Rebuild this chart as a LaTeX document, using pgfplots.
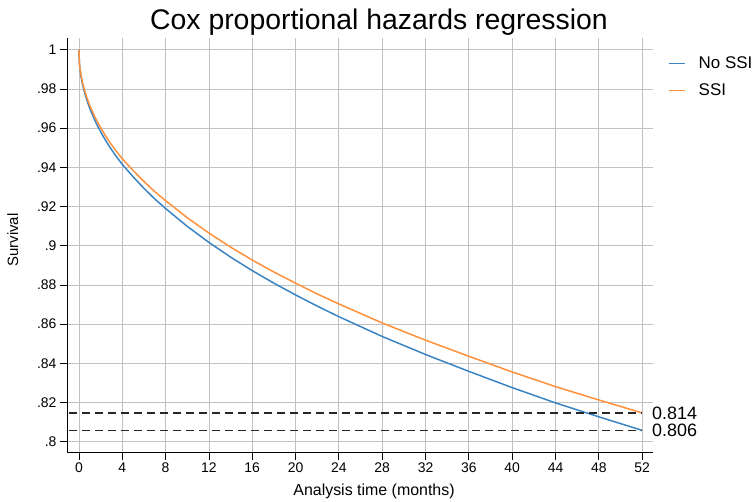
\documentclass[border=0pt]{standalone}
\usepackage{pgfplots}
\pgfplotsset{compat=1.18}
\usepackage{fontspec}
\setmainfont{Liberation Sans}
\definecolor{cblue}{RGB}{58,132,196}
\definecolor{corange}{RGB}{255,145,60}
\begin{document}
\begin{tikzpicture}[x=1bp,y=1bp]
\path[use as bounding box] (0,0) rectangle (756,502);
\begin{axis}[
  at={(67bp,49.3bp)}, anchor=south west,
  scale only axis, width=586bp, height=414.7bp,
  xmin=-1.1, xmax=53, ymin=0.7944, ymax=1.006,
  axis x line*=bottom, axis y line*=left,
  axis line style={black, line width=1bp, -},
  xtick={0,4,8,12,16,20,24,28,32,36,40,44,48,52},
  ytick={0.8,0.82,0.84,0.86,0.88,0.9,0.92,0.94,0.96,0.98,1},
  yticklabels={.8,.82,.84,.86,.88,.9,.92,.94,.96,.98,1},
  tick align=outside, major tick length=7bp,
  tick style={black, line width=0.8bp},
  grid=major, grid style={black!24, line width=0.8bp},
  ticklabel style={font=\fontsize{14}{16}\selectfont},
  /pgf/number format/assume math mode=true,
  clip mode=individual,
  legend style={draw=none, fill=none, at={(1.0256,0.960)}, anchor=north west,
    font=\fontsize{17}{19}\selectfont, row sep=10bp, inner sep=0pt,
    cells={anchor=west}},
  legend image code/.code={\draw[#1, line width=1.5bp] (0bp,0bp) -- (16bp,0bp);},
]
\addplot[cblue, line width=1.5bp] coordinates {
(0,1.000) (0.05,0.9927) (0.1,0.9900) (0.2,0.9862) (0.3,0.9832) (0.5,0.9786)
(0.75,0.9740) (1,0.9701) (1.5,0.9636) (2,0.9582) (2.5,0.9534) (3,0.9491)
(3.5,0.9452) (4,0.9415) (5,0.9352) (6,0.9293) (7,0.9239) (8,0.9190)
(10,0.9099) (12,0.9017) (14,0.8942) (16,0.8873) (18,0.8809) (20,0.8749)
(22,0.8692) (24,0.8638) (28,0.8537) (32,0.8445) (36,0.8359) (40,0.8276)
(44,0.8198) (48,0.8127) (52,0.8058)};
\addlegendentry{\hspace{11bp}No SSI}
\addplot[corange, line width=1.5bp] coordinates {
(0,1.000) (0.05,0.9931) (0.1,0.9905) (0.2,0.9869) (0.3,0.9840) (0.5,0.9797)
(0.75,0.9753) (1,0.9716) (1.5,0.9654) (2,0.9603) (2.5,0.9557) (3,0.9516)
(3.5,0.9479) (4,0.9444) (5,0.9384) (6,0.9328) (7,0.9276) (8,0.9230)
(10,0.9143) (12,0.9065) (14,0.8993) (16,0.8927) (18,0.8866) (20,0.8809)
(22,0.8754) (24,0.8703) (28,0.8606) (32,0.8518) (36,0.8436) (40,0.8356)
(44,0.8281) (48,0.8213) (52,0.8147)};
\addlegendentry{\hspace{11bp}SSI}
\addplot[black!85, line width=1.2bp, dash pattern=on 8bp off 5bp, forget plot]
  coordinates {(-0.9,0.8147) (52,0.8147)};
\addplot[black!85, line width=1.2bp, dash pattern=on 8bp off 5bp, forget plot]
  coordinates {(-0.9,0.8058) (52,0.8058)};
\node[anchor=west, inner sep=0pt, font=\fontsize{18}{20}\selectfont] at (axis cs:52.9,0.8147) {0.814};
\node[anchor=west, inner sep=0pt, font=\fontsize{18}{20}\selectfont] at (axis cs:52.9,0.8058) {0.806};
\end{axis}
\node[anchor=base, font=\fontsize{28.5}{31}\selectfont] at (379,472) {Cox proportional hazards regression};
\node[anchor=base, rotate=90, font=\fontsize{15}{17}\selectfont] at (18,262) {Survival};
\node[anchor=base, font=\fontsize{16}{18}\selectfont] at (374,6) {Analysis time (months)};
\end{tikzpicture}
\end{document}
